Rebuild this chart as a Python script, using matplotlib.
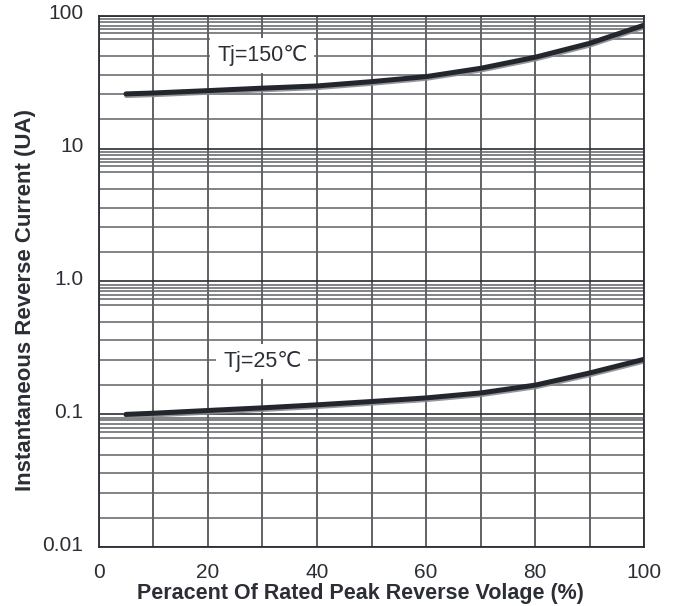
import matplotlib
matplotlib.use("Agg")
from matplotlib import pyplot as plt
from matplotlib import patheffects as pe
from matplotlib.transforms import ScaledTranslation

# data
pct = [5, 10, 20, 30, 40, 50, 60, 70, 80, 90, 100]
ir_150 = [25.8, 26.2, 27.3, 28.5, 29.6, 31.9, 34.8, 40.2, 48.7, 62.0, 85.0]
ir_25 = [0.100, 0.102, 0.107, 0.112, 0.118, 0.125, 0.133, 0.145, 0.166, 0.205, 0.26]

y_ticks = [0.01, 0.1, 1.0, 10, 100]
y_tick_labels = ["0.01", "0.1", "1.0", "10", "100"]
x_ticks = [0, 20, 40, 60, 80, 100]

# the datasheet grid has odd minor lines in each decade
minor_factors = [9.41, 9.01, 8.41, 7.91, 7.39, 6.66, 4.96, 3.60, 2.56, 1.67]

plt.rcParams['font.family'] = ['Liberation Sans', 'DejaVu Sans']
dark = "#2b2e34"

fig = plt.figure(figsize=(6.85, 6.06), dpi=100)
ax = fig.add_axes([0.1441, 0.0969, 0.9406 - 0.1441, 0.9741 - 0.0969])

ax.set_yscale('log')
ax.set_xlim(0, 100)
ax.set_ylim(0.01, 100)

minor = [d * f for d in [0.01, 0.1, 1, 10] for f in minor_factors]
ax.set_yticks(y_ticks)
ax.set_yticklabels(y_tick_labels)
ax.set_yticks(minor, minor=True)
ax.set_yticklabels([], minor=True)
ax.set_xticks(x_ticks)
ax.set_xticks(range(0, 101, 10), minor=True)

ax.tick_params(which='both', length=0, labelsize=15, labelcolor=dark)
ax.tick_params(axis='y', pad=11)
ax.tick_params(axis='x', pad=11)
for lab in ax.get_yticklabels():
    lab.set_transform(lab.get_transform() + ScaledTranslation(0, 4 / 100, fig.dpi_scale_trans))

ax.grid(True, which='major', axis='y', color=dark, lw=1.2)
ax.grid(True, which='minor', axis='y', color="#5f6267", lw=1.1)
ax.grid(True, which='both', axis='x', color="#45484d", lw=1.2)
ax.set_axisbelow(True)

for s in ax.spines.values():
    s.set_color(dark)
    s.set_linewidth(1.3)

shadow = [pe.SimpleLineShadow(offset=(0.4, -1.2), shadow_color='#8a8c90', alpha=0.9), pe.Normal()]
ax.plot(pct, ir_150, color="#23272d", lw=3.6, solid_capstyle='round', path_effects=shadow)
ax.plot(pct, ir_25, color="#23272d", lw=3.6, solid_capstyle='round', path_effects=shadow)

box = dict(facecolor='white', edgecolor='none', pad=5)
ax.text(30, 50, "Tj=150\u2103", fontsize=15.5, color=dark, ha='center', va='center', bbox=box)
ax.text(30, 0.25, "Tj=25\u2103", fontsize=15.5, color=dark, ha='center', va='center', bbox=box)

ax.set_xlabel("Peracent Of Rated Peak Reverse Volage (%)", fontsize=15.5,
              fontweight='bold', color=dark)
ax.xaxis.set_label_coords(0.480, -0.068)
ax.set_ylabel("Instantaneous Reverse Current (UA)", fontsize=16,
              fontweight='bold', color=dark, va='center')
ax.yaxis.set_label_coords(-0.135, 0.465)

fig.savefig("out.png", dpi=100)
